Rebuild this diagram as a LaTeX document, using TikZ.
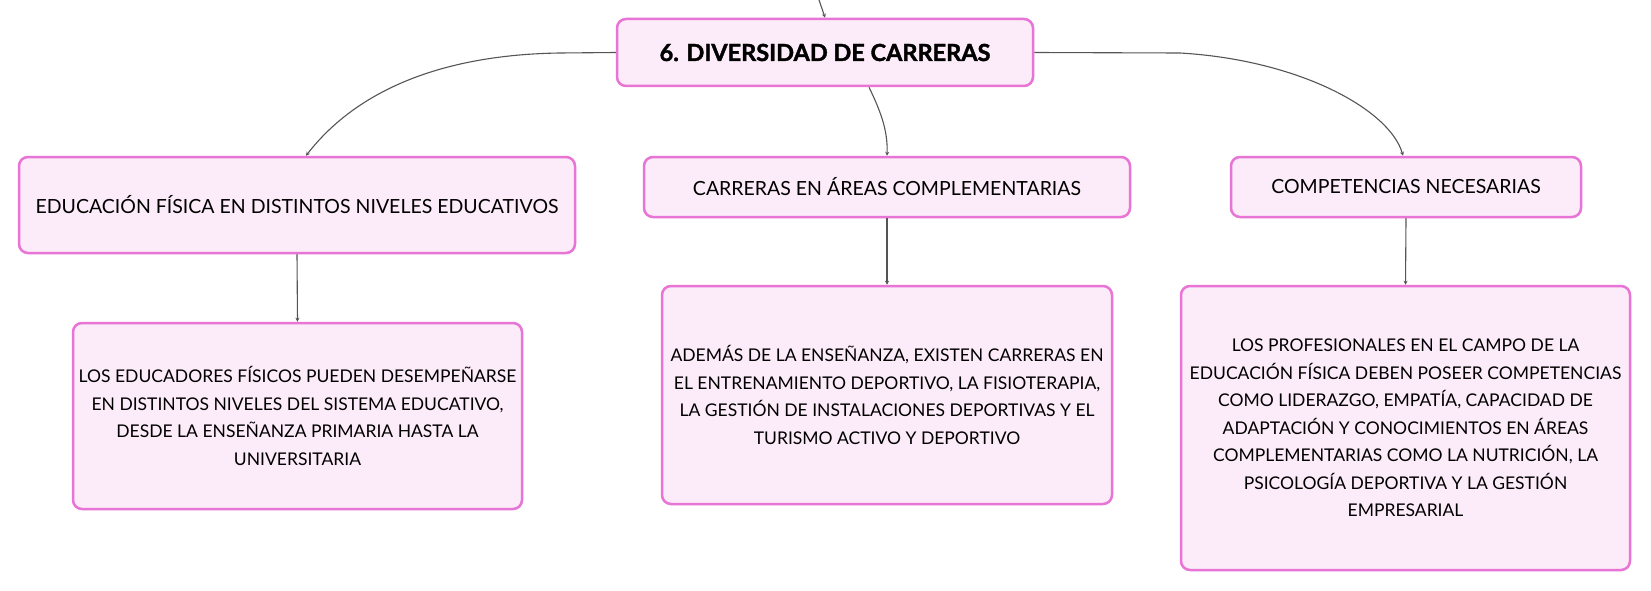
\documentclass[tikz,border=0pt]{standalone}
\usepackage{fontspec}
\setmainfont{Lato}
\newfontfamily\titlefont{Lato}[BoldFeatures={FakeBold=1.6}]
\usetikzlibrary{arrows.meta}
\definecolor{boxborder}{HTML}{E874D6}
\definecolor{boxfill}{HTML}{FCEBF8}
\definecolor{linkcol}{HTML}{555555}
\begin{document}
\begin{tikzpicture}[x=1pt,y=1pt,
  box/.style={draw=boxborder, fill=boxfill, line width=2.5pt, rounded corners=9pt,
    align=center, inner sep=0pt, text=black},
  topic/.style={box, font=\fontsize{19.5}{27}\selectfont},
  detail/.style={box, font=\fontsize{17.5}{27.5}\selectfont},
  link/.style={draw=linkcol, line width=1.1pt, -{Stealth[length=4pt,width=4pt]}}
]
\useasboundingbox (0,0) rectangle (1651,-591);
\fill[white] (0,0) rectangle (1651,-591);

\node[box, minimum width=416pt, minimum height=67pt,
  font=\fontsize{23.5}{27}\titlefont\bfseries] (title) at (825,-52.5) {6. DIVERSIDAD DE CARRERAS};

\node[topic, minimum width=556pt, minimum height=96pt] (a) at (297,-205)
  {EDUCACIÓN FÍSICA EN DISTINTOS NIVELES EDUCATIVOS};
\node[topic, minimum width=486pt, minimum height=60pt] (b) at (887,-187)
  {CARRERAS EN ÁREAS COMPLEMENTARIAS};
\node[topic, minimum width=350pt, minimum height=60pt] (c) at (1406,-187)
  {COMPETENCIAS NECESARIAS};

\node[detail, minimum width=449pt, minimum height=186pt] (a2) at (297.5,-416)
  {LOS EDUCADORES FÍSICOS PUEDEN DESEMPEÑARSE\\EN DISTINTOS NIVELES DEL SISTEMA EDUCATIVO,\\DESDE LA ENSEÑANZA PRIMARIA HASTA LA\\UNIVERSITARIA};
\node[detail, minimum width=450pt, minimum height=218pt] (b2) at (887,-395)
  {ADEMÁS DE LA ENSEÑANZA, EXISTEN CARRERAS EN\\EL ENTRENAMIENTO DEPORTIVO, LA FISIOTERAPIA,\\LA GESTIÓN DE INSTALACIONES DEPORTIVAS Y EL\\TURISMO ACTIVO Y DEPORTIVO};
\node[detail, minimum width=449pt, minimum height=284pt] (c2) at (1405.5,-428)
  {LOS PROFESIONALES EN EL CAMPO DE LA\\EDUCACIÓN FÍSICA DEBEN POSEER COMPETENCIAS\\COMO LIDERAZGO, EMPATÍA, CAPACIDAD DE\\ADAPTACIÓN Y CONOCIMIENTOS EN ÁREAS\\COMPLEMENTARIAS COMO LA NUTRICIÓN, LA\\PSICOLOGÍA DEPORTIVA Y LA GESTIÓN\\EMPRESARIAL};

\coordinate (topin) at (819,0);
\draw[link] (topin) .. controls (822,-8) .. (title.north -| 825,0);

\draw[link] (title.west) -- (560,-53) .. controls (420,-55) and (346,-104) .. (a.north -| 306,0);
\draw[link] (title.east) -- (1180,-53) .. controls (1300,-60) and (1390,-110) .. (c.north -| 1403,0);
\draw[link] (title.south -| 869,0) .. controls (880,-110) and (888,-130) .. (b.north);

\draw[link] (a.south) -- (a2.north);
\draw[link] (b.south) -- (b2.north);
\draw[link] (c.south) -- (c2.north);
\end{tikzpicture}
\end{document}
